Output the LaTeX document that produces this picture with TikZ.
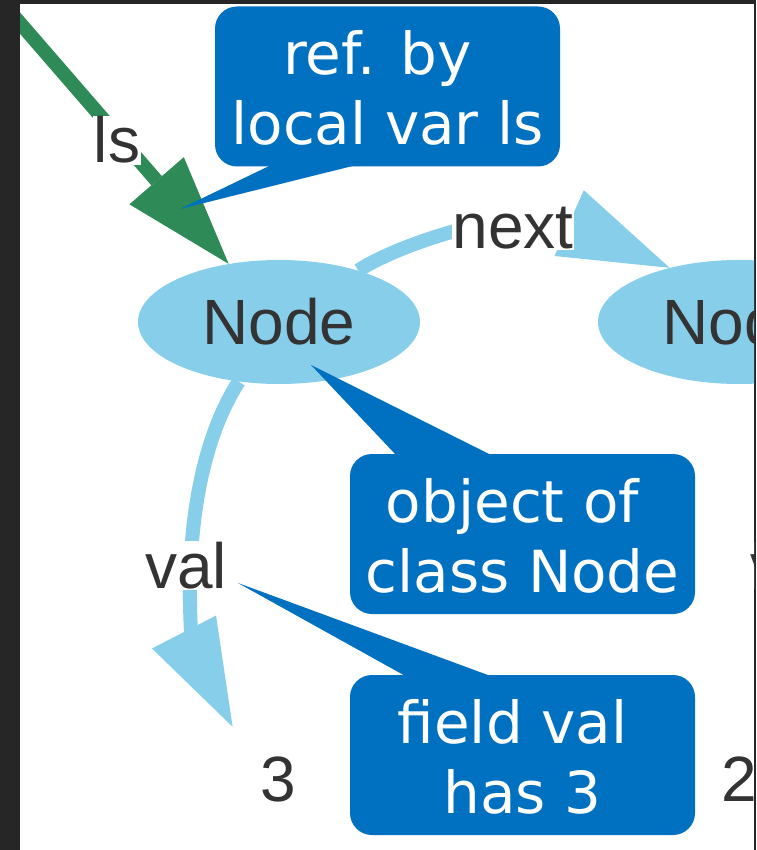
\documentclass[tikz,border=0pt]{standalone}
\usepackage{fontspec}
\setmainfont{Liberation Sans}
\newfontfamily\calloutfont{DejaVu Sans}
\usetikzlibrary{arrows.meta,calc,shapes.geometric}
\definecolor{framegray}{HTML}{262626}
\definecolor{objblue}{HTML}{87CEEB}
\definecolor{refgreen}{HTML}{2E8B57}
\definecolor{noteblue}{HTML}{0070C0}
\definecolor{inkgray}{HTML}{333333}
\begin{document}
\begin{tikzpicture}[x=1pt, y=-1pt,
  graphfont/.style={font=\fontsize{64}{64}\selectfont, text=inkgray},
  obj/.style={graphfont, ellipse, fill=objblue, minimum width=282pt,
    minimum height=124pt, inner sep=0pt},
  valnode/.style={graphfont, circle, minimum size=138pt, inner sep=0pt},
  edgelabel/.style={graphfont, fill=white, inner sep=1pt, anchor=base},
  headtip/.style={-{Triangle[length=110pt, width=72pt, line width=0pt]}},
  refedge/.style={draw=refgreen, line width=14pt, headtip},
  fieldline/.style={draw=objblue, line width=14pt},
  fieldedge/.style={fieldline, headtip},
  note/.style={fill=noteblue, rounded corners=22pt, minimum width=345pt,
    minimum height=160pt, inner sep=0pt},
  notetext/.style={text=white, font=\calloutfont\fontsize{58}{58}\selectfont,
    anchor=base, inner sep=0pt}]
\useasboundingbox (0,0) rectangle (756,850);
\fill[framegray] (0,0) rectangle (756,850);
\fill[white] (20,4) rectangle (754,850);

\begin{scope}
\clip (20,4) rectangle (754,850);

% object nodes and field values
\node[obj] (n1) at (279,322) {Node};
\node[obj] (n2) at (739,322) {Node};
\node[valnode] (three) at (278,779) {3};
\node[valnode] (two) at (739,779) {2};

% reference held by the local variable
\coordinate (lsfrom) at (0,0);
\draw[refedge] (lsfrom) -- (n1);
\node[edgelabel] (lslabel) at (117,163) {ls};

% next pointer
\draw[fieldedge] (n1.33) .. controls (400,243) and (524,203) .. (n2.142);
\node[edgelabel] (nextlabel) at (513,248) {next};

% val field: curved shaft, then the head turned toward the value
\coordinate (valend) at (191,632);
\coordinate (valhead) at (184,632);
\draw[fieldline] (n1.236) .. controls (198,445) and (186,540) .. (valend);
\fill[objblue] ($(valhead)!36pt!90:(three.131)$) -- (three.131)
  -- ($(valhead)!36pt!-90:(three.131)$) -- cycle;
\node[edgelabel] (vallabel) at (186,588) {val};
\node[edgelabel, anchor=base west, inner sep=0pt] (vallabeltwo) at (750,588) {val};

% callouts
\node[note] (c1) at (387.5,86.5) {};
\coordinate (tip1) at (180,209);
\fill[noteblue] ($(c1.south west)+(57,-2)$) -- ($(c1.south west)+(143,-2)$) -- (tip1) -- cycle;
\node[notetext] (c1a) at ($(c1.center)+(-10,-11.5)$) {ref. by};
\node[notetext] (c1b) at ($(c1.center)+(0,58)$) {local var ls};

\node[note] (c2) at (522.5,534) {};
\coordinate (tip2) at (311,365);
\fill[noteblue] ($(c2.north west)+(47,2)$) -- ($(c2.north west)+(143,2)$) -- (tip2) -- cycle;
\node[notetext] (c2a) at ($(c2.center)+(-10,-11.5)$) {object of};
\node[notetext] (c2b) at ($(c2.center)+(0,58)$) {class Node};

\node[note] (c3) at (522.5,755) {};
\coordinate (tip3) at (238,583);
\fill[noteblue] ($(c3.north west)+(57,2)$) -- ($(c3.north west)+(143,2)$) -- (tip3) -- cycle;
\node[notetext] (c3a) at ($(c3.center)+(-10,-11.5)$) {field val};
\node[notetext] (c3b) at ($(c3.center)+(0,58)$) {has 3};
\end{scope}
\end{tikzpicture}
\end{document}
